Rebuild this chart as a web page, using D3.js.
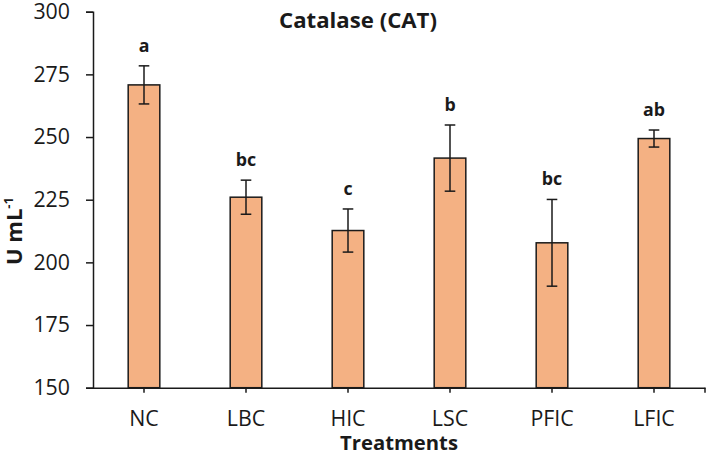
<!DOCTYPE html>
<html>
<head>
<meta charset="utf-8">
<script src="https://cdn.jsdelivr.net/npm/d3@7"></script>
<style>
  body { margin: 0; background: #fff; }
  text { font-family: "Open Sans", "Noto Sans", sans-serif; fill: #1a1a1a; }
</style>
</head>
<body>
<svg id="chart" width="709" height="454"></svg>
<script>
const treatments = ["NC", "LBC", "HIC", "LSC", "PFIC", "LFIC"];
const means = [270.8, 226.0, 212.7, 241.6, 207.8, 249.4];
const errors = [7.6, 6.8, 8.6, 13.2, 17.3, 3.4];
const letters = ["a", "bc", "c", "b", "bc", "ab"];
const yTicks = [150, 175, 200, 225, 250, 275, 300];

const svg = d3.select("#chart");

const width = 709;
const height = 454;
const marginTop = 11.7;
const marginRight = 4;
const marginBottom = 66.3;
const marginLeft = 93;

// scale a font so one sample text gets the wanted width, return the size
function fitSize(sel, wanted) {
  const node = sel.node();
  const cur = parseFloat(sel.attr("font-size"));
  return cur * wanted / node.getComputedTextLength();
}

const x = d3.scaleBand()
    .domain(treatments)
    .range([marginLeft, width - marginRight])
    .paddingInner(0.69)
    .paddingOuter(0.345);

const y = d3.scaleLinear()
    .domain([150, 300])
    .range([height - marginBottom, marginTop]);

const data = treatments.map((t, i) => ({t, mean: means[i], err: errors[i], letter: letters[i]}));

// bars
svg.append("g")
  .selectAll("rect")
  .data(data)
  .join("rect")
    .attr("x", d => x(d.t))
    .attr("y", d => y(d.mean))
    .attr("width", x.bandwidth())
    .attr("height", d => y(150) - y(d.mean))
    .attr("fill", "#F4B183")
    .attr("stroke", "#1a1a1a")
    .attr("stroke-width", 1.5);

// error bars
const eb = svg.append("g")
    .attr("stroke", "#1a1a1a")
    .attr("stroke-width", 1.5);
const cx = d => x(d.t) + x.bandwidth() / 2;
eb.selectAll("line.v").data(data).join("line")
    .attr("class", "v")
    .attr("x1", cx).attr("x2", cx)
    .attr("y1", d => y(d.mean + d.err))
    .attr("y2", d => y(d.mean - d.err));
eb.selectAll("line.top").data(data).join("line")
    .attr("class", "top")
    .attr("x1", d => cx(d) - 5.3).attr("x2", d => cx(d) + 5.3)
    .attr("y1", d => y(d.mean + d.err)).attr("y2", d => y(d.mean + d.err));
eb.selectAll("line.bot").data(data).join("line")
    .attr("class", "bot")
    .attr("x1", d => cx(d) - 5.3).attr("x2", d => cx(d) + 5.3)
    .attr("y1", d => y(d.mean - d.err)).attr("y2", d => y(d.mean - d.err));

// significance letters
const lab = svg.append("g")
    .attr("font-weight", "bold");
lab.selectAll("text")
  .data(data)
  .join("text")
    .attr("x", cx)
    .attr("y", d => y(d.mean + d.err) - 14)
    .attr("text-anchor", "middle")
    .attr("font-size", 19)
    .text(d => d.letter);
const labSize = fitSize(lab.selectAll("text").filter(d => d.letter === "ab"), 22);
lab.selectAll("text").attr("font-size", labSize);

// y axis
const yAxis = svg.append("g")
    .attr("transform", `translate(${marginLeft},0)`)
    .call(d3.axisLeft(y).tickValues(yTicks).tickSize(7).tickPadding(16));
yAxis.select(".domain").attr("stroke", "#1a1a1a").attr("stroke-width", 1.5);
yAxis.selectAll(".tick line").attr("stroke", "#1a1a1a").attr("stroke-width", 1.5);
yAxis.selectAll(".tick text")
    .attr("font-size", 20)
    .attr("font-family", "'Open Sans', sans-serif")
    .attr("fill", "#1a1a1a");
const ySize = fitSize(yAxis.selectAll(".tick text").filter(d => d === 300), 36.6);
yAxis.selectAll(".tick text").attr("font-size", ySize);

// x axis
const xAxis = svg.append("g")
    .attr("transform", `translate(0,${y(150)})`)
    .call(d3.axisBottom(x).tickSizeInner(5).tickSizeOuter(0).tickPadding(14));
xAxis.select(".domain").attr("stroke", "#1a1a1a").attr("stroke-width", 1.5);
xAxis.selectAll(".tick line").attr("stroke", "#1a1a1a").attr("stroke-width", 1.5);
xAxis.selectAll(".tick text")
    .attr("font-size", 20)
    .attr("font-family", "'Open Sans', sans-serif")
    .attr("fill", "#1a1a1a");
const xSize = fitSize(xAxis.selectAll(".tick text").filter(d => d === "PFIC"), 43.3);
xAxis.selectAll(".tick text").attr("font-size", xSize).attr("dy", null).attr("y", 38.5);
xAxis.append("line")
    .attr("x1", width - marginRight).attr("x2", width - marginRight)
    .attr("y1", 0).attr("y2", 5)
    .attr("stroke", "#1a1a1a").attr("stroke-width", 1.5);

// title
const title = svg.append("text")
    .attr("x", 358)
    .attr("y", 28)
    .attr("text-anchor", "middle")
    .attr("font-size", 20)
    .attr("font-weight", "bold")
    .text("Catalase (CAT)");
title.attr("font-size", fitSize(title, 158));

// axis titles
const xt = svg.append("text")
    .attr("x", 399)
    .attr("y", 450)
    .attr("text-anchor", "middle")
    .attr("font-size", 20)
    .attr("font-weight", "bold")
    .text("Treatments");
xt.attr("font-size", fitSize(xt, 118));

const yt = svg.append("text")
    .attr("transform", "translate(22,231) rotate(-90)")
    .attr("text-anchor", "middle")
    .attr("font-size", 22)
    .attr("font-weight", "bold");
yt.append("tspan").text("U mL");
yt.append("tspan").attr("font-size", 13).attr("dy", -9).text("-1");
</script>
</body>
</html>
